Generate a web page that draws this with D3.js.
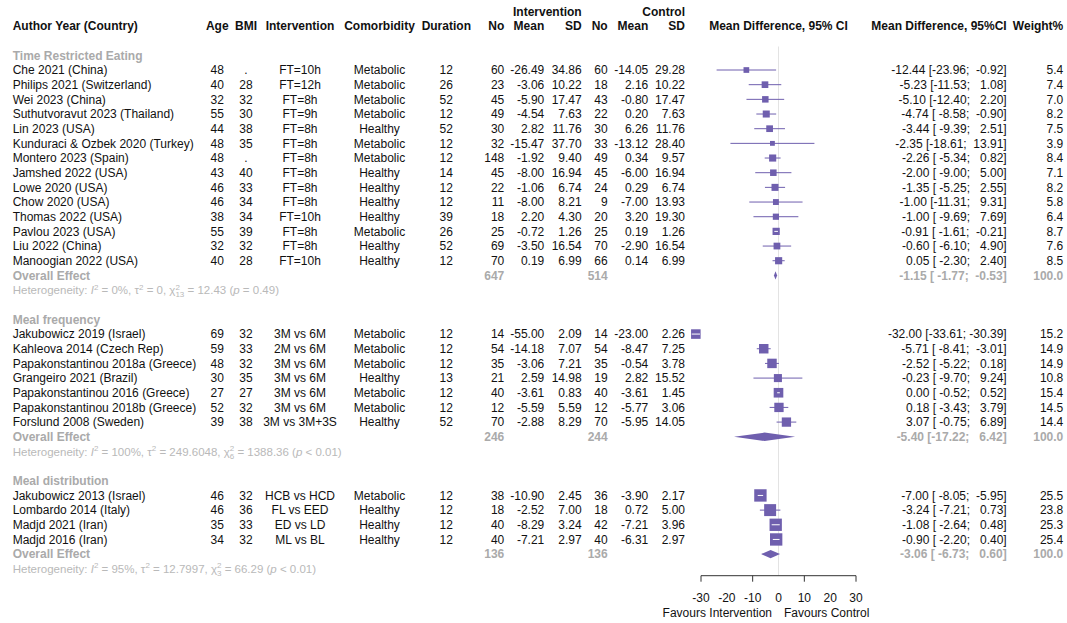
<!DOCTYPE html>
<html>
<head>
<meta charset="utf-8">
<script src="https://cdn.jsdelivr.net/npm/d3@7"></script>
<style>
  html, body { margin: 0; padding: 0; background: #fff; }
  svg { display: block; font-family: "Liberation Sans", Arial, sans-serif; }
  text { white-space: pre; }
</style>
</head>
<body>
<svg id="chart" width="1067" height="623"></svg>
<script>
// ---- subgroups ----
const groupNames = ["Time Restricted Eating", "Meal frequency", "Meal distribution"];

// ---- study columns ----
const study = [
  "Che 2021 (China)", "Philips 2021 (Switzerland)", "Wei 2023 (China)", "Suthutvoravut 2023 (Thailand)",
  "Lin 2023 (USA)", "Kunduraci & Ozbek 2020 (Turkey)", "Montero 2023 (Spain)", "Jamshed 2022 (USA)",
  "Lowe 2020 (USA)", "Chow 2020 (USA)", "Thomas 2022 (USA)", "Pavlou 2023 (USA)", "Liu 2022 (China)",
  "Manoogian 2022 (USA)",
  "Jakubowicz 2019 (Israel)", "Kahleova 2014 (Czech Rep)", "Papakonstantinou 2018a (Greece)",
  "Grangeiro 2021 (Brazil)", "Papakonstantinou 2016 (Greece)", "Papakonstantinou 2018b (Greece)",
  "Forslund 2008 (Sweden)",
  "Jakubowicz 2013 (Israel)", "Lombardo 2014 (Italy)", "Madjd 2021 (Iran)", "Madjd 2016 (Iran)"
];
const group = [0,0,0,0,0,0,0,0,0,0,0,0,0,0, 1,1,1,1,1,1,1, 2,2,2,2];
const age = [48,40,32,55,44,48,48,43,46,46,38,55,32,40, 69,59,48,30,27,52,39, 46,46,35,34];
const bmi = [".","28","32","30","38","35",".","40","33","34","34","39","32","28",
             "32","33","32","35","27","32","38", "32","36","33","32"];
const intervention = ["FT=10h","FT=12h","FT=8h","FT=9h","FT=8h","FT=8h","FT=8h","FT=8h","FT=8h","FT=8h",
  "FT=10h","FT=8h","FT=8h","FT=10h",
  "3M vs 6M","2M vs 6M","3M vs 6M","3M vs 6M","3M vs 6M","3M vs 6M","3M vs 3M+3S",
  "HCB vs HCD","FL vs EED","ED vs LD","ML vs BL"];
const comorbidity = ["Metabolic","Metabolic","Metabolic","Metabolic","Healthy","Metabolic","Metabolic",
  "Healthy","Healthy","Healthy","Healthy","Metabolic","Healthy","Healthy",
  "Metabolic","Metabolic","Metabolic","Healthy","Metabolic","Metabolic","Healthy",
  "Metabolic","Healthy","Healthy","Healthy"];
const duration = [12,26,52,12,52,12,12,14,12,12,39,26,52,12, 12,12,12,13,12,12,52, 12,12,12,12];
const nE = [60,23,45,49,30,32,148,45,22,11,18,25,69,70, 14,54,35,21,40,12,70, 38,18,40,40];
const meanE = [-26.49,-3.06,-5.90,-4.54,2.82,-15.47,-1.92,-8.00,-1.06,-8.00,2.20,-0.72,-3.50,0.19,
  -55.00,-14.18,-3.06,2.59,-3.61,-5.59,-2.88, -10.90,-2.52,-8.29,-7.21];
const sdE = [34.86,10.22,17.47,7.63,11.76,37.70,9.40,16.94,6.74,8.21,4.30,1.26,16.54,6.99,
  2.09,7.07,7.21,14.98,0.83,5.59,8.29, 2.45,7.00,3.24,2.97];
const nC = [60,18,43,22,30,33,49,45,24,9,20,25,70,66, 14,54,35,19,40,12,70, 36,18,42,40];
const meanC = [-14.05,2.16,-0.80,0.20,6.26,-13.12,0.34,-6.00,0.29,-7.00,3.20,0.19,-2.90,0.14,
  -23.00,-8.47,-0.54,2.82,-3.61,-5.77,-5.95, -3.90,0.72,-7.21,-6.31];
const sdC = [29.28,10.22,17.47,7.63,11.76,28.40,9.57,16.94,6.74,13.93,19.30,1.26,16.54,6.99,
  2.26,7.25,3.78,15.52,1.45,3.06,14.05, 2.17,5.00,3.96,2.97];
const md = [-12.44,-5.23,-5.10,-4.74,-3.44,-2.35,-2.26,-2.00,-1.35,-1.00,-1.00,-0.91,-0.60,0.05,
  -32.00,-5.71,-2.52,-0.23,0.00,0.18,3.07, -7.00,-3.24,-1.08,-0.90];
const lower = [-23.96,-11.53,-12.40,-8.58,-9.39,-18.61,-5.34,-9.00,-5.25,-11.31,-9.69,-1.61,-6.10,-2.30,
  -33.61,-8.41,-5.22,-9.70,-0.52,-3.43,-0.75, -8.05,-7.21,-2.64,-2.20];
const upper = [-0.92,1.08,2.20,-0.90,2.51,13.91,0.82,5.00,2.55,9.31,7.69,-0.21,4.90,2.40,
  -30.39,-3.01,0.18,9.24,0.52,3.79,6.89, -5.95,0.73,0.48,0.40];
const weight = [5.4,7.4,7.0,8.2,7.5,3.9,8.4,7.1,8.2,5.8,6.4,8.7,7.6,8.5,
  15.2,14.9,14.9,10.8,15.4,14.5,14.4, 25.5,23.8,25.3,25.4];

// ---- pooled results per subgroup ----
const overallMD = [-1.15, -5.40, -3.06];
const overallLower = [-1.77, -17.22, -6.73];
const overallUpper = [-0.53, 6.42, 0.60];
const totalE = [647, 246, 136];
const totalC = [514, 244, 136];
const hetI2 = ["0%", "100%", "95%"];
const hetTau2 = ["0", "249.6048", "12.7997"];
const hetDf = ["13", "6", "3"];
const hetChi2 = ["12.43", "1388.36", "66.29"];
const hetP = ["= 0.49", "< 0.01", "< 0.01"];

// ---- axis ----
const tickLabels = [-30, -20, -10, 0, 10, 20, 30];
const tickMarks = [-30, -10, 10, 30];

// ---- styling ----
const FONT = 12;
const COL_TEXT = "#111";
const COL_GREY = "#aaaaaa";
const COL_HET = "#b9b9b9";
const COL_MARK = "#6f5fae";

const svg = d3.select("#chart");
const rowH = 14.67, row0 = 26;
const rowY = r => row0 + r * rowH;

const x = d3.scaleLinear().domain([-30, 30]).range([701, 856]);

function txt(xp, yp, s, anchor, opts = {}) {
  return svg.append("text")
    .attr("x", xp).attr("y", yp).attr("dy", "0.36em")
    .attr("text-anchor", anchor || "start")
    .attr("font-size", opts.size || FONT)
    .attr("font-weight", opts.bold ? "bold" : null)
    .attr("fill", opts.fill || COL_TEXT)
    .text(s);
}

const pad6 = v => { const s = v.toFixed(2); return " ".repeat(Math.max(0, 6 - s.length)) + s; };
const ciText = (m, lo, hi) => `${m.toFixed(2)} [${pad6(lo)}; ${pad6(hi)}]`;

// column positions
const C = {
  author: 12.7, age: 217.3, bmi: 246, interv: 300, comorb: 379.5, dur: 446.3,
  nE: 504.3, meanE: 544.3, sdE: 581.7, nC: 607.7, meanC: 648.3, sdC: 685,
  ci: 1006.7, w: 1063.3
};

// ---- headers ----
const hb = { bold: true };
txt(C.sdE, rowY(-1), "Intervention", "end", hb);
txt(C.sdC, rowY(-1), "Control", "end", hb);
txt(C.author, rowY(0), "Author Year (Country)", "start", hb);
txt(C.age, rowY(0), "Age", "middle", hb);
txt(C.bmi, rowY(0), "BMI", "middle", hb);
txt(C.interv, rowY(0), "Intervention", "middle", hb);
txt(C.comorb, rowY(0), "Comorbidity", "middle", hb);
txt(C.dur, rowY(0), "Duration", "middle", hb);
txt(C.nE, rowY(0), "No", "end", hb);
txt(C.meanE, rowY(0), "Mean", "end", hb);
txt(C.sdE, rowY(0), "SD", "end", hb);
txt(C.nC, rowY(0), "No", "end", hb);
txt(C.meanC, rowY(0), "Mean", "end", hb);
txt(C.sdC, rowY(0), "SD", "end", hb);
txt(x(0), rowY(0), "Mean Difference, 95% CI", "middle", hb);
txt(C.ci, rowY(0), "Mean Difference, 95%CI", "end", hb);
txt(C.w, rowY(0), "Weight%", "end", hb);

// ---- row layout ----
const layout = [];
let r = 2;
groupNames.forEach((g, gi) => {
  layout.push({ type: "label", g: gi, row: r++ });
  study.forEach((s, i) => { if (group[i] === gi) layout.push({ type: "study", i, row: r++ }); });
  layout.push({ type: "overall", g: gi, row: r++ });
  layout.push({ type: "het", g: gi, row: r++ });
  r++;
});

// reference line at zero
const axisY = 575.7;
svg.append("line")
  .attr("x1", x(0)).attr("x2", x(0))
  .attr("y1", 46.5).attr("y2", axisY)
  .attr("stroke", "#e3e3e3").attr("stroke-width", 1);

const marks = svg.append("g");

layout.forEach(d => {
  const yy = rowY(d.row);
  if (d.type === "label") {
    txt(C.author, yy, groupNames[d.g], "start", { bold: true, fill: COL_GREY });
  } else if (d.type === "study") {
    const i = d.i;
    txt(C.author, yy, study[i], "start");
    txt(C.age, yy, String(age[i]), "middle");
    txt(C.bmi, yy, bmi[i], "middle");
    txt(C.interv, yy, intervention[i], "middle");
    txt(C.comorb, yy, comorbidity[i], "middle");
    txt(C.dur, yy, String(duration[i]), "middle");
    txt(C.nE, yy, String(nE[i]), "end");
    txt(C.meanE, yy, meanE[i].toFixed(2), "end");
    txt(C.sdE, yy, sdE[i].toFixed(2), "end");
    txt(C.nC, yy, String(nC[i]), "end");
    txt(C.meanC, yy, meanC[i].toFixed(2), "end");
    txt(C.sdC, yy, sdC[i].toFixed(2), "end");
    txt(C.ci, yy, ciText(md[i], lower[i], upper[i]), "end");
    txt(C.w, yy, weight[i].toFixed(1), "end");

    // square sized by weight, CI whisker; whisker turns white when it fits inside the square
    const side = 2.45 * Math.sqrt(weight[i]);
    const cx = x(md[i]);
    const x1 = x(lower[i]), x2 = x(upper[i]);
    const inside = (x2 - x1) < side;
    marks.append("line")
      .attr("x1", x1).attr("x2", x2).attr("y1", yy).attr("y2", yy)
      .attr("stroke", COL_MARK).attr("stroke-width", 1);
    marks.append("rect")
      .attr("x", cx - side / 2).attr("y", yy - side / 2)
      .attr("width", side).attr("height", side)
      .attr("fill", COL_MARK);
    if (inside) {
      marks.append("line")
        .attr("x1", x1).attr("x2", x2).attr("y1", yy).attr("y2", yy)
        .attr("stroke", "#fff").attr("stroke-width", 1);
    }
  } else if (d.type === "overall") {
    const g = d.g;
    const gb = { bold: true, fill: COL_GREY };
    txt(C.author, yy, "Overall Effect", "start", gb);
    txt(C.nE, yy, String(totalE[g]), "end", gb);
    txt(C.nC, yy, String(totalC[g]), "end", gb);
    txt(C.ci, yy, ciText(overallMD[g], overallLower[g], overallUpper[g]), "end", gb);
    txt(C.w, yy, "100.0", "end", gb);
    const h = 4.2;
    const pts = [
      [x(overallLower[g]), yy], [x(overallMD[g]), yy - h],
      [x(overallUpper[g]), yy], [x(overallMD[g]), yy + h]
    ];
    marks.append("polygon")
      .attr("points", pts.map(p => p.join(",")).join(" "))
      .attr("fill", COL_MARK);
  } else if (d.type === "het") {
    const g = d.g;
    const fs = 11.5, ss = 8;
    const t = svg.append("text")
      .attr("x", C.author).attr("y", yy).attr("dy", "0.36em")
      .attr("font-size", fs).attr("fill", COL_HET);
    t.append("tspan").text("Heterogeneity: ");
    t.append("tspan").attr("font-style", "italic").text("I");
    t.append("tspan").attr("font-size", ss).attr("dy", -4.7).text("2");
    t.append("tspan").attr("dy", 4.7).text(` = ${hetI2[g]}, \u03C4`);
    t.append("tspan").attr("font-size", ss).attr("dy", -4.7).text("2");
    t.append("tspan").attr("dy", 4.7).text(` = ${hetTau2[g]}, \u03C7`);
    t.append("tspan").attr("font-size", ss).attr("dy", -4.7).text("2");
    t.append("tspan").attr("font-size", ss).attr("dx", -4.45).attr("dy", 7.8).text(hetDf[g]);
    t.append("tspan").attr("dy", -3.1).text(` = ${hetChi2[g]} (`);
    t.append("tspan").attr("font-style", "italic").text("p");
    t.append("tspan").text(` ${hetP[g]})`);
  }
});

// ---- x axis ----
const axisG = svg.append("g").attr("transform", `translate(0,${axisY})`);
axisG.append("line")
  .attr("x1", x(-30)).attr("x2", x(30))
  .attr("stroke", "#333").attr("stroke-width", 1);
axisG.selectAll("line.tick").data(tickMarks).join("line")
  .attr("class", "tick")
  .attr("x1", d => x(d)).attr("x2", d => x(d))
  .attr("y1", 0).attr("y2", 6)
  .attr("stroke", "#333").attr("stroke-width", 1);
axisG.selectAll("text.tl").data(tickLabels).join("text")
  .attr("class", "tl")
  .attr("x", d => x(d)).attr("y", 597.5 - axisY).attr("dy", "0.36em")
  .attr("text-anchor", "middle")
  .attr("font-size", FONT).attr("fill", COL_TEXT)
  .text(d => String(d));

txt(x(0) - 6.5, 613, "Favours Intervention", "end");
txt(x(0) + 5.5, 613, "Favours Control", "start");
</script>
</body>
</html>
